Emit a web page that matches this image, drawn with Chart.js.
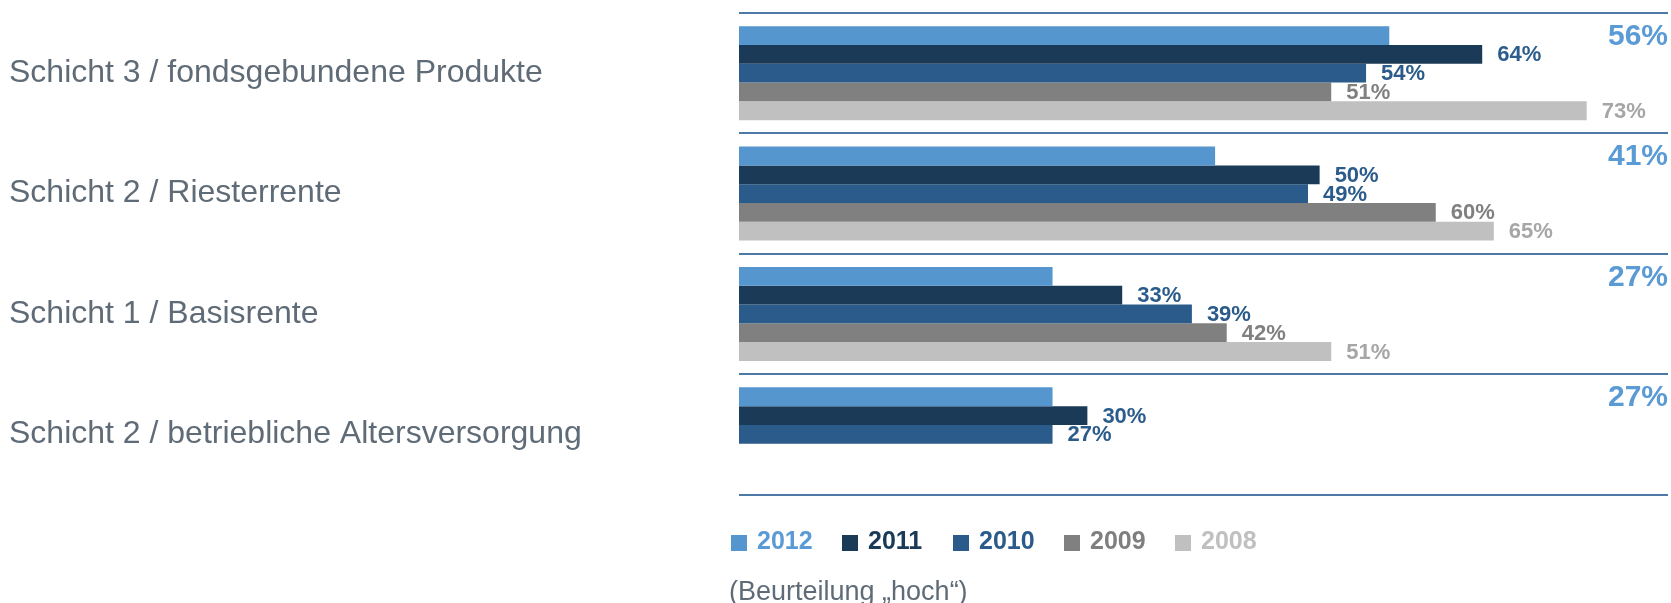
<!DOCTYPE html>
<html>
<head>
<meta charset="utf-8">
<script src="https://cdn.jsdelivr.net/npm/chart.js@4.4.1/dist/chart.umd.min.js"></script>
<style>
  html, body { margin: 0; padding: 0; background: #fff; }
  #wrap { width: 1671px; height: 603px; position: relative; }
</style>
</head>
<body>
<div id="wrap"><canvas id="rankChart"></canvas></div>
<script>
const categories = [
    'Schicht 3 / fondsgebundene Produkte',
    'Schicht 2 / Riesterrente',
    'Schicht 1 / Basisrente',
    'Schicht 2 / betriebliche Altersversorgung'
];
const years = ['2012', '2011', '2010', '2009', '2008'];
const values2012 = [56, 41, 27, 27];
const values2011 = [64, 50, 33, 30];
const values2010 = [54, 49, 39, 27];
const values2009 = [51, 60, 42, null];
const values2008 = [73, 65, 51, null];
const noteText = '(Beurteilung \u201Ehoch\u201C)';

const barColors = ['#5596cf', '#1b3a57', '#2a5b8a', '#808080', '#c0c0c0'];
const labelColors = ['#5b9bd5', '#2b5c8c', '#2a5b8a', '#808080', '#a6a6a6'];
const legendColors = ['#5b9bd5', '#1b3a57', '#2a5b8a', '#7f7f7f', '#c0c0c0'];
const FONT = "'Liberation Sans', Arial, sans-serif";

const seriesValues = [values2012, values2011, values2010, values2009, values2008];

// value labels next to the bars, 2012 on the right edge
const valueLabels = {
    id: 'valueLabels',
    afterDatasetsDraw(chart) {
        const { ctx, chartArea } = chart;
        ctx.save();
        ctx.textBaseline = 'middle';
        chart.data.datasets.forEach((ds, i) => {
            const meta = chart.getDatasetMeta(i);
            meta.data.forEach((bar, j) => {
                const v = ds.data[j];
                if (v === null) return;
                if (i === 0) {
                    ctx.font = 'bold 30px ' + FONT;
                    ctx.textAlign = 'right';
                    ctx.fillStyle = labelColors[0];
                    ctx.fillText(v + '%', chartArea.right, bar.y + 1);
                } else {
                    ctx.font = 'bold 22px ' + FONT;
                    ctx.textAlign = 'left';
                    ctx.fillStyle = labelColors[i];
                    ctx.fillText(v + '%', bar.x + 15, bar.y + 1);
                }
            });
        });
        ctx.restore();
    }
};

// legend row and note under the bars
const bottomLegend = {
    id: 'bottomLegend',
    afterDraw(chart) {
        const { ctx, chartArea } = chart;
        ctx.save();
        ctx.textBaseline = 'middle';
        ctx.textAlign = 'left';
        chart.data.datasets.forEach((ds, i) => {
            const x = chartArea.left - 8 + i * 111;
            ctx.fillStyle = ds.backgroundColor;
            ctx.fillRect(x, 535, 16, 16);
            ctx.font = 'bold 25px ' + FONT;
            ctx.fillStyle = legendColors[i];
            ctx.fillText(ds.label, x + 26, 542);
        });
        ctx.font = '27px ' + FONT;
        ctx.fillStyle = '#5f6b76';
        ctx.textBaseline = 'alphabetic';
        ctx.fillText(noteText, chartArea.left - 10, 600);
        ctx.restore();
    }
};

const ctx = document.getElementById('rankChart').getContext('2d');
let rankChart = new Chart(ctx, {
    type: 'bar',
    data: {
        labels: categories,
        datasets: years.map((y, i) => ({
            label: y,
            data: seriesValues[i],
            backgroundColor: barColors[i],
            borderWidth: 0,
            barPercentage: 1,
            categoryPercentage: 0.78
        }))
    },
    options: {
        indexAxis: 'y',
        responsive: true,
        maintainAspectRatio: false,
        animation: false,
        layout: { padding: { left: 9, top: 13, right: 3, bottom: 108.5 } },
        plugins: {
            legend: { display: false },
            tooltip: { enabled: false }
        },
        scales: {
            x: { display: false, min: 0, max: 80 },
            y: {
                border: { display: false },
                grid: { color: '#4d79a6', lineWidth: 2, drawTicks: false, offset: true },
                ticks: {
                    crossAlign: 'far',
                    padding: 0,
                    color: '#5f6b76',
                    font: { family: FONT, size: 32 }
                },
                afterFit: (axis) => {
                    axis.width = 730;
                    axis.paddingTop = 0;
                    axis.paddingBottom = 0;
                }
            }
        }
    },
    plugins: [valueLabels, bottomLegend]
});
</script>
</body>
</html>
